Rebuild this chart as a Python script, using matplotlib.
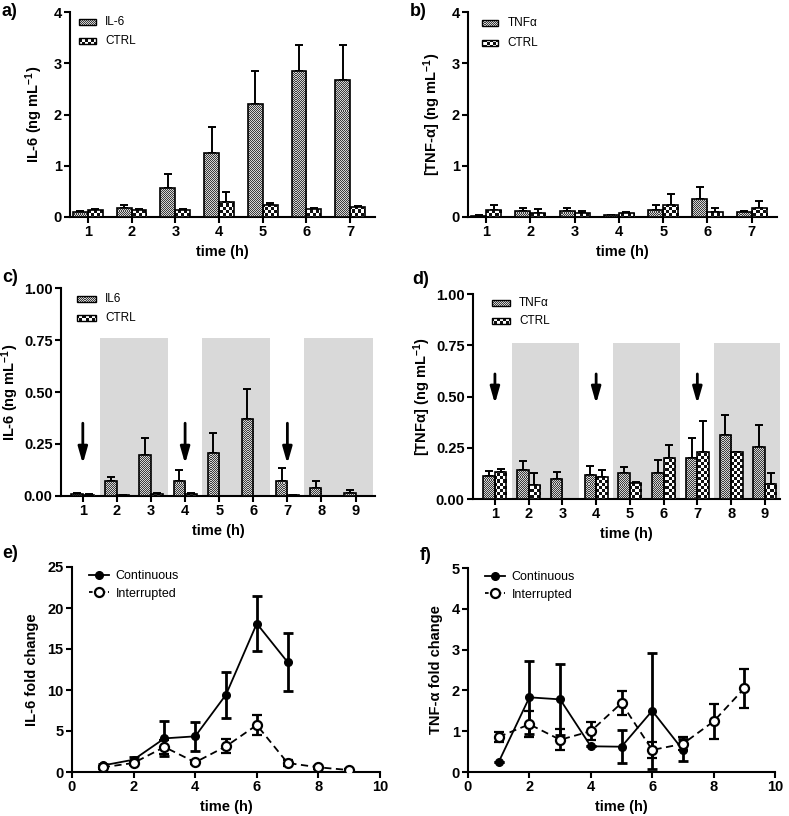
import numpy as np
import matplotlib
matplotlib.use("Agg")
import matplotlib.pyplot as plt
from matplotlib.patches import Rectangle
from matplotlib.lines import Line2D
from matplotlib.colors import to_rgb

plt.rcParams['font.family'] = ['Liberation Sans', 'DejaVu Sans']
plt.rcParams['font.weight'] = 'bold'
plt.rcParams['axes.labelweight'] = 'bold'
plt.rcParams['axes.linewidth'] = 1.5
plt.rcParams['mathtext.default'] = 'regular'

# ---- data ----
hours7 = [1, 2, 3, 4, 5, 6, 7]
hours9 = [1, 2, 3, 4, 5, 6, 7, 8, 9]

il6_a = [0.10, 0.18, 0.56, 1.24, 2.20, 2.84, 2.68]
il6_a_err = [0.02, 0.05, 0.28, 0.51, 0.65, 0.52, 0.68]
ctrl_a = [0.13, 0.13, 0.14, 0.30, 0.23, 0.16, 0.20]
ctrl_a_err = [0.03, 0.02, 0.01, 0.19, 0.05, 0.02, 0.02]

tnf_b = [0.02, 0.12, 0.12, 0.03, 0.14, 0.36, 0.09]
tnf_b_err = [0.01, 0.05, 0.05, 0.01, 0.09, 0.23, 0.03]
ctrl_b = [0.14, 0.08, 0.08, 0.07, 0.23, 0.10, 0.17]
ctrl_b_err = [0.10, 0.07, 0.03, 0.02, 0.22, 0.07, 0.14]

il6_c = [0.010, 0.072, 0.197, 0.074, 0.205, 0.370, 0.074, 0.037, 0.014]
il6_c_err = [0.005, 0.018, 0.080, 0.051, 0.100, 0.145, 0.059, 0.033, 0.013]
ctrl_c = [0.005, 0.003, 0.010, 0.008, 0.002, 0.0, 0.003, 0.0, 0.0]
ctrl_c_err = [0.006, 0.0, 0.005, 0.005, 0.0, 0.0, 0.0, 0.0, 0.0]

tnf_d = [0.114, 0.143, 0.099, 0.118, 0.127, 0.127, 0.198, 0.312, 0.256]
tnf_d_err = [0.024, 0.040, 0.032, 0.041, 0.027, 0.061, 0.099, 0.100, 0.106]
ctrl_d = [0.133, 0.070, 0.0, 0.105, 0.076, 0.200, 0.227, 0.227, 0.075]
ctrl_d_err = [0.013, 0.057, 0.0, 0.035, 0.007, 0.061, 0.154, 0.0, 0.052]

# shaded (off) periods and stimulation arrows in c/d
off_periods = [(1.5, 3.5), (4.5, 6.5), (7.5, 9.5)]
arrow_hours = [1, 4, 7]

cont_e = [0.8, 1.5, 4.1, 4.35, 9.43, 18.1, 13.4]
cont_e_err = [0.2, 0.3, 2.1, 1.8, 2.8, 3.35, 3.5]
int_e = [0.57, 1.1, 3.05, 1.18, 3.13, 5.73, 1.1, 0.57, 0.24]
int_e_err = [0.2, 0.2, 0.9, 0.2, 0.85, 1.2, 0.35, 0.2, 0.1]

cont_f = [0.245, 1.83, 1.78, 0.63, 0.62, 1.5, 0.54]
cont_f_err = [0.0, 0.89, 0.87, 0.0, 0.40, 1.42, 0.26]
int_f = [0.86, 1.17, 0.79, 1.0, 1.69, 0.54, 0.69, 1.24, 2.05]
int_f_err = [0.12, 0.32, 0.26, 0.22, 0.30, 0.20, 0.16, 0.42, 0.48]

W, H = 789, 816
fig = plt.figure(figsize=(W / 100, H / 100), dpi=100)


def add_ax(left, right, top, bottom):
    return fig.add_axes([left / W, 1 - bottom / H, (right - left) / W, (bottom - top) / H])


def fill_pattern(ax, patch, cell, c1, c2):
    # checkerboard texture clipped to a patch
    bb = ax.get_position()
    wpx = int(round(bb.width * W))
    hpx = int(round(bb.height * H))
    yy, xx = np.mgrid[0:hpx, 0:wpx]
    mask = ((xx // cell) + (yy // cell)) % 2 == 0
    img = np.where(mask[..., None], to_rgb(c1), to_rgb(c2))
    im = ax.imshow(img, extent=(0, 1, 0, 1), transform=ax.transAxes,
                   interpolation='nearest', aspect='auto', zorder=patch.get_zorder() - 0.1)
    im.set_clip_path(patch)


FINE = (1, '#3c3c3c', '#d4d4d4')
COARSE = (3, '#101010', '#ffffff')


def style(ax):
    for s in ['top', 'right']:
        ax.spines[s].set_visible(False)
    ax.tick_params(direction='out', length=4.5, width=1.5, labelsize=10.5, pad=1.5)


def bar_panel(ax, x, v1, e1, v2, e2, w=0.34):
    x = np.array(x, dtype=float)
    b1 = ax.bar(x - w / 2, v1, w, facecolor='none', edgecolor='k', lw=1.2, zorder=3)
    b2 = ax.bar(x + w / 2, v2, w, facecolor='none', edgecolor='k', lw=1.2, zorder=3)
    ax.errorbar(x - w / 2, v1, yerr=[np.zeros(len(x)), e1], fmt='none', ecolor='k',
                elinewidth=1.4, capsize=3, capthick=1.4, zorder=2)
    ax.errorbar(x + w / 2, v2, yerr=[np.zeros(len(x)), e2], fmt='none', ecolor='k',
                elinewidth=1.4, capsize=3, capthick=1.4, zorder=2)
    for p in b1:
        fill_pattern(ax, p, *FINE)
    for p in b2:
        fill_pattern(ax, p, *COARSE)


def bar_legend(ax, labels, px, pw, tx, rows, ph=0.028):
    for lab, y, pat in zip(labels, rows, [FINE, COARSE]):
        r = Rectangle((px, y - ph / 2), pw, ph, transform=ax.transAxes, facecolor='none',
                      edgecolor='k', lw=1.0, zorder=5, clip_on=False)
        ax.add_patch(r)
        fill_pattern(ax, r, *pat)
        ax.text(tx, y, lab, transform=ax.transAxes, va='center', ha='left',
                fontsize=8.5, fontweight='normal')


# a)
ax = add_ax(70, 375, 12, 217)
bar_panel(ax, hours7, il6_a, il6_a_err, ctrl_a, ctrl_a_err)
bar_legend(ax, ['IL-6', 'CTRL'], 0.03, 0.055, 0.115, [0.95, 0.86])
ax.set_xlim(0.59, 7.57)
ax.set_ylim(0, 4)
ax.set_yticks([0, 1, 2, 3, 4])
ax.set_xticks(hours7)
ax.set_ylabel('IL-6 (ng mL$^{-1}$)', fontsize=10.5, labelpad=6)
ax.set_xlabel('time (h)', fontsize=10.5)
style(ax)

# b)
ax = add_ax(468, 777, 12, 217)
bar_panel(ax, hours7, tnf_b, tnf_b_err, ctrl_b, ctrl_b_err)
bar_legend(ax, ['TNF\u03b1', 'CTRL'], 0.044, 0.053, 0.128, [0.948, 0.847])
ax.set_xlim(0.59, 7.57)
ax.set_ylim(0, 4)
ax.set_yticks([0, 1, 2, 3, 4])
ax.set_xticks(hours7)
ax.set_ylabel('[TNF-\u03b1] (ng mL$^{-1}$)', fontsize=10.5, labelpad=6)
ax.set_xlabel('time (h)', fontsize=10.5)
style(ax)

# c) and d)
for box, v1, e1, v2, e2, leg, ylab, arr, xl in [
        ((61, 375, 288, 496), il6_c, il6_c_err, ctrl_c, ctrl_c_err,
         (['IL6', 'CTRL'], 0.05, 0.062, 0.14, [0.946, 0.857]),
         'IL-6 (ng mL$^{-1}$)', (0.35, 0.155), (0.36, 9.57)),
        ((473, 780, 294, 499), tnf_d, tnf_d_err, ctrl_d, ctrl_d_err,
         (['TNF\u03b1', 'CTRL'], 0.061, 0.058, 0.15, [0.955, 0.868]),
         '[TNF\u03b1] (ng mL$^{-1}$)', (0.61, 0.465), (0.35, 9.45))]:
    ax = add_ax(*box)
    for a0, a1 in off_periods:
        ax.axvspan(a0, a1, ymin=0, ymax=0.762, color='#d9d9d9', lw=0, zorder=0)
    bar_panel(ax, hours9, v1, e1, v2, e2)
    bar_legend(ax, *leg)
    for h in arrow_hours:
        ax.annotate('', xy=(h, arr[1]), xytext=(h, arr[0]),
                    arrowprops=dict(arrowstyle='-|>,head_length=0.7,head_width=0.2',
                                    lw=2, color='k', mutation_scale=14, shrinkA=0, shrinkB=0))
    ax.set_xlim(*xl)
    ax.set_ylim(0, 1)
    ax.set_yticks([0, 0.25, 0.5, 0.75, 1.0])
    ax.set_yticklabels(['0.00', '0.25', '0.50', '0.75', '1.00'])
    ax.set_xticks(hours9)
    ax.set_ylabel(ylab, fontsize=10.5, labelpad=2)
    ax.set_xlabel('time (h)', fontsize=10.5)
    style(ax)


# e) and f)
def line_panel(ax, yc, ec, yi, ei):
    ax.errorbar(hours7, yc, yerr=ec, color='k', lw=1.3, marker='o', ms=5.5,
                elinewidth=2, capsize=3.6, capthick=2, zorder=3)
    ax.errorbar(hours9, yi, yerr=ei, color='k', lw=1.3, ls=(0, (4, 2.5)), marker='o', ms=6.5,
                mfc='white', mew=1.6, elinewidth=2, capsize=3.6, capthick=2, zorder=4)
    handles = [Line2D([], [], color='k', lw=1.3, marker='o', ms=5.5),
               Line2D([], [], color='k', lw=1.3, ls=(0, (2, 1.5)), marker='o', ms=6.5,
                      mfc='white', mew=1.6)]
    ax.legend(handles, ['Continuous', 'Interrupted'], loc='upper left',
              bbox_to_anchor=(0.02, 1.04), frameon=False, handlelength=1.6,
              handletextpad=0.5, labelspacing=0.45, prop={'size': 9, 'weight': 'normal'})
    ax.set_xlim(0, 10)
    ax.set_xticks([0, 2, 4, 6, 8, 10])
    ax.set_xlabel('time (h)', fontsize=10.5)
    style(ax)


ax = add_ax(72, 380, 567, 772)
line_panel(ax, cont_e, cont_e_err, int_e, int_e_err)
ax.set_ylim(0, 25)
ax.set_yticks([0, 5, 10, 15, 20, 25])
ax.set_ylabel('IL-6 fold change', fontsize=10.5, labelpad=6)

ax = add_ax(468, 775, 568, 772)
line_panel(ax, cont_f, cont_f_err, int_f, int_f_err)
ax.set_ylim(0, 5)
ax.set_yticks([0, 1, 2, 3, 4, 5])
ax.set_ylabel('TNF-\u03b1 fold change', fontsize=10.5, labelpad=6)

for lab, x, y in [('a)', 2, 12), ('b)', 410, 12), ('c)', 2, 278),
                  ('d)', 412, 280), ('e)', 2, 554), ('f)', 420, 555)]:
    fig.text(x / W, 1 - y / H, lab, fontsize=13, fontweight='bold', va='center', ha='left')

fig.savefig('out.png', dpi=100)
